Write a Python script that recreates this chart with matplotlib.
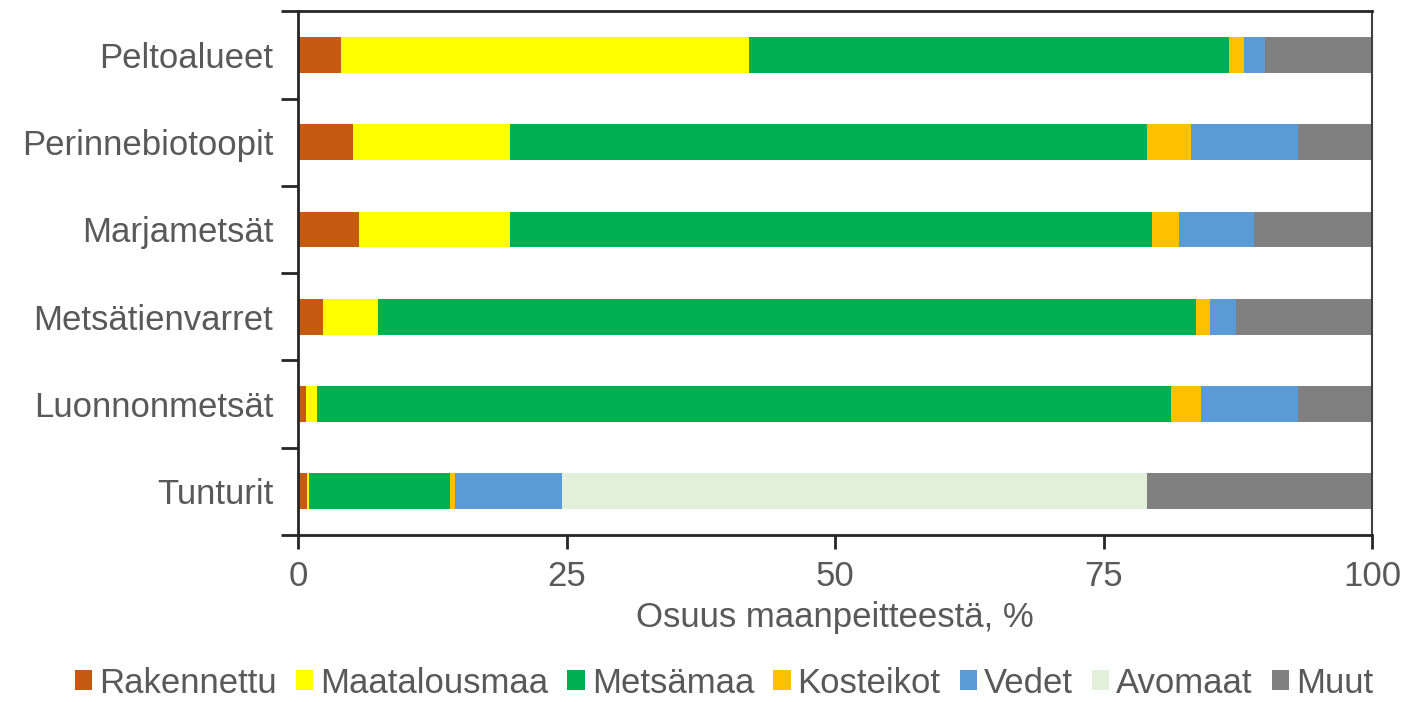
import numpy as np
import matplotlib.pyplot as plt

plt.rcParams['font.family'] = ['Liberation Sans', 'DejaVu Sans']

categories = ['Peltoalueet', 'Perinnebiotoopit', 'Marjametsät',
              'Metsätienvarret', 'Luonnonmetsät', 'Tunturit']
classes = ['Rakennettu', 'Maatalousmaa', 'Metsämaa', 'Kosteikot',
           'Vedet', 'Avomaat', 'Muut']
colors = ['#C55A11', '#FFFF00', '#00B050', '#FFC000',
          '#5B9BD5', '#E2EFDA', '#808080']

rakennettu = [4.0, 5.1, 5.7, 2.3, 0.7, 0.8]
maatalousmaa = [38.0, 14.6, 14.0, 5.1, 1.1, 0.2]
metsamaa = [44.7, 59.3, 59.8, 76.2, 79.5, 13.1]
kosteikot = [1.4, 4.1, 2.5, 1.3, 2.8, 0.5]
vedet = [1.9, 10.0, 7.0, 2.4, 9.0, 10.0]
avomaat = [0.0, 0.0, 0.0, 0.0, 0.0, 54.4]
muut = [10.0, 6.9, 11.0, 12.7, 6.9, 21.0]

series = [rakennettu, maatalousmaa, metsamaa, kosteikot, vedet, avomaat, muut]
text_col = '#595959'
axis_col = '#262626'

fig = plt.figure(figsize=(14.06, 7.02), dpi=100)
ax = fig.add_axes([0.212, 0.238, 0.764, 0.746])

y = np.arange(len(categories))[::-1]
left = np.zeros(len(categories))
for name, vals, c in zip(classes, series, colors):
    vals = np.array(vals)
    ax.barh(y, vals, left=left, height=0.41, color=c, label=name)
    left += vals

ax.set_xlim(0, 100)
ax.set_ylim(-0.5, len(categories) - 0.5)
ax.set_xticks([0, 25, 50, 75, 100])
ax.set_yticks(y)
ax.set_yticklabels(categories)
ax.set_yticks(np.arange(-0.5, len(categories), 1.0), minor=True)
ax.tick_params(axis='y', which='major', length=0, pad=18, labelsize=25, labelcolor=text_col)
ax.tick_params(axis='y', which='minor', length=12, width=2, color=axis_col)
ax.tick_params(axis='x', length=10, width=2, color=axis_col, labelsize=25,
               labelcolor=text_col, pad=8)

for s in ['left', 'bottom', 'top']:
    ax.spines[s].set_linewidth(2)
    ax.spines[s].set_color(axis_col)
ax.spines['right'].set_color('#404040')
ax.spines['right'].set_linewidth(1.5)

ax.set_xlabel('Osuus maanpeitteestä, %', fontsize=25, color=text_col, labelpad=6)

fig.legend(loc='center', bbox_to_anchor=(0.515, 0.027), ncol=7, frameon=False,
           fontsize=25, labelcolor=text_col, handlelength=0.5, handleheight=0.5,
           handletextpad=0.2, columnspacing=0.55, borderpad=0, borderaxespad=0)

fig.savefig('out.png', dpi=100)
